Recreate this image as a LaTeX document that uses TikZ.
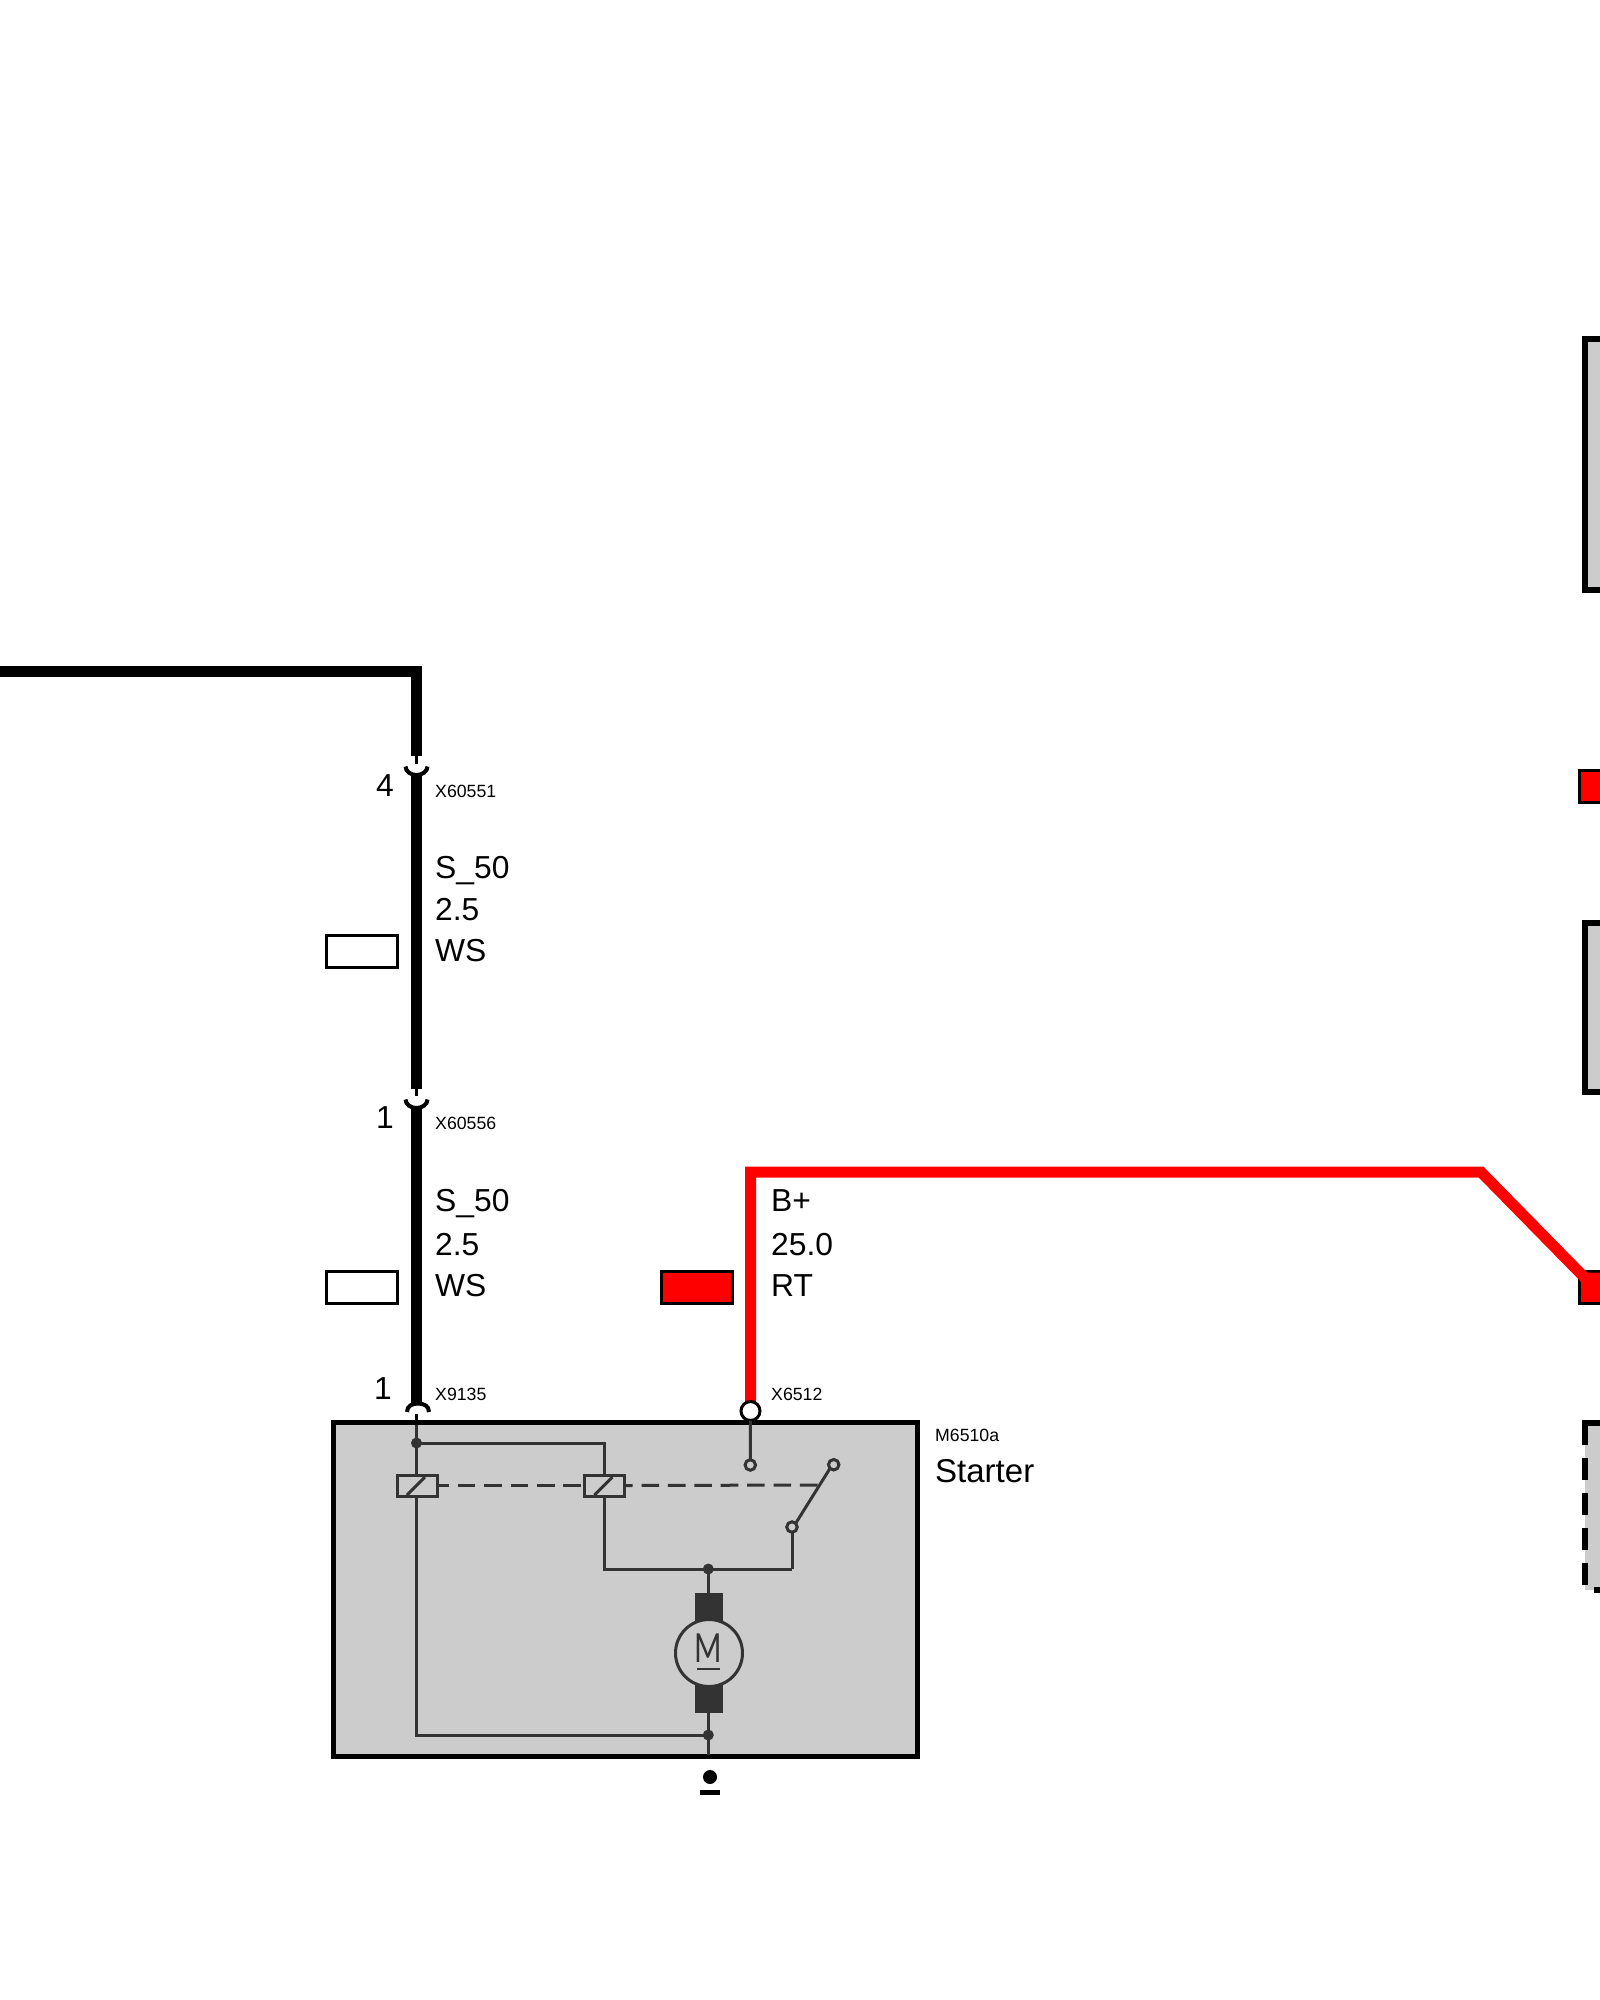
\documentclass[tikz,border=0pt]{standalone}
\usepackage{fontspec}
\setmainfont{Liberation Sans}
\newfontfamily\motorf{Lato}
\definecolor{unitgrey}{HTML}{CCCCCC}
\definecolor{inner}{HTML}{333333}
\definecolor{wirered}{HTML}{FF0000}
\tikzset{
  wireblack/.style={draw=black,line width=11pt,line cap=butt,miter limit=10},
  wirer/.style={draw=wirered,line width=11pt,line join=miter},
  stub/.style={draw=black,line width=3pt},
  socket/.style={draw=black,line width=4pt},
  unit/.style={draw=black,fill=unitgrey,line width=5pt,inner sep=0pt,outer sep=0pt},
  colwhite/.style={draw=black,fill=white,line width=3pt,inner sep=0pt,outer sep=0pt,minimum width=71pt,minimum height=32pt},
  colred/.style={colwhite,fill=wirered},
  inl/.style={draw=inner,line width=3pt},
  jdot/.style={circle,fill=inner,inner sep=0pt,outer sep=0pt,minimum size=11pt},
  coil/.style={draw=inner,fill=unitgrey,line width=3pt,inner sep=0pt,outer sep=0pt,minimum width=40pt,minimum height=21pt},
  contact/.style={circle,draw=inner,fill=unitgrey,line width=3pt,inner sep=0pt,outer sep=0pt,minimum size=10.5pt},
  brush/.style={fill=inner,inner sep=0pt,outer sep=0pt,minimum width=28pt},
  big/.style={anchor=base west,inner sep=0pt,font=\fontsize{31.8}{36}\selectfont},
  small/.style={anchor=base west,inner sep=0pt,font=\fontsize{17.7}{21}\selectfont},
}
\begin{document}
\begin{tikzpicture}[x=1pt,y=-1pt]
\useasboundingbox (0,0) rectangle (1600,2000);
\clip (0,0) rectangle (1600,2000);
\fill[white] (0,0) rectangle (1600,2000);

% units
\node[unit,minimum width=584pt,minimum height=333.5pt] (starter) at (625.5,1589.25) {};
\node[unit,line width=6pt,minimum width=200pt,minimum height=251pt] (unitA) at (1684.5,464) {};
\node[unit,line width=6pt,minimum width=200pt,minimum height=169pt] (unitB) at (1684.5,1007.5) {};
\node[unit,draw=none,minimum width=200pt,minimum height=167pt] (unitC) at (1684.5,1506.5) {};
\coordinate (cTL) at (unitC.north west);
\coordinate (cBL) at (unitC.south west);
\coordinate (cTR) at (unitC.north east);
\coordinate (cBR) at (unitC.south east);
\draw[draw=black,line width=6pt,dash pattern=on 22pt off 13pt] (cTL) -- (cBL);
\draw[draw=black,line width=6pt] ([xshift=-3pt]cTL) -- (cTR);
\draw[draw=black,line width=6pt] ([xshift=9pt]cBL) -- (cBR);

% colour tags
\node[colwhite] (tagA) at (362,951.5) {};
\node[colwhite] (tagB) at (362,1287) {};
\node[colred] (tagC) at (697,1287) {};
\node[colred] (tagD) at (1615,786.5) {};
\node[colred] (tagE) at (1615,1287.5) {};

% black wire
\coordinate (wstart) at (-10,671);
\coordinate (wcorner) at (416.5,671);
\coordinate (w4top) at (416.5,756);
\coordinate (w4mid) at (416.5,764);
\coordinate (w4bot) at (416.5,773);
\coordinate (w1top) at (416.5,1089);
\coordinate (w1mid) at (416.5,1096);
\coordinate (w1bot) at (416.5,1106);
\coordinate (w2top) at (416.5,1403);
\draw[wireblack] (wstart) -- (wcorner) -- (w4top);
\draw[wireblack] (w4bot) -- (w1top);
\draw[wireblack] (w1bot) -- (w2top);
\draw[stub] (w4top) -- (w4mid);
\draw[stub] (w1top) -- (w1mid);
\draw[stub] (416.5,1414) -- (starter.north -| w2top);
\draw[socket] (405.5,766.5) .. controls (405.5,771.5) and (411,775) .. (416.5,775) .. controls (422,775) and (427.5,771.5) .. (427.5,766.5);
\draw[socket] (405.5,1099.5) .. controls (405.5,1104.5) and (411,1108) .. (416.5,1108) .. controls (422,1108) and (427.5,1104.5) .. (427.5,1099.5);
\draw[socket] (407,1412) .. controls (407,1406) and (412,1403.5) .. (418,1403.5) .. controls (424,1403.5) and (429,1406) .. (429,1412);

% red wire
\coordinate (r0) at (750.5,1402);
\coordinate (r1) at (750.5,1172);
\coordinate (r2) at (1481,1172);
\coordinate (r3) at (1585,1278);
\coordinate (r4) at (1610,1278);
\draw[wirer] (r0) -- (r1) -- (r2) -- (r3) -- (r4);
\node[circle,draw=black,fill=white,line width=3pt,inner sep=0pt,outer sep=0pt,minimum size=19pt] (term) at (750.5,1411) {};

% internal wiring
\coordinate (j1) at (416.5,1443);
\coordinate (j1r) at (604.5,1443);
\node[coil] (coilA) at (417,1485.5) {};
\node[coil] (coilB) at (604.5,1485.5) {};
\draw[inl] (416.5,1425) -- (j1) -- (coilA.north -| j1);
\draw[inl] (j1) -- (j1r) -- (coilB.north -| j1r);
\draw[inl] (coilA.south -| j1) -- (416.5,1735) -- (708.3,1735);
\draw[inl] (coilB.south -| j1r) -- (604.5,1569) -- (792,1569);
\node[contact] (ct1) at (750.3,1465) {};
\node[contact] (ct2) at (833.7,1464.7) {};
\node[contact] (ct3) at (792,1527) {};
\draw[inl] (term.south) -- (ct1.north);
\draw[inl] (ct3.south) -- (792,1569);
\draw[inl] (ct3.north east) -- (ct2.south west);
\coordinate (dashend) at (820,1485);
\draw[draw=inner,line width=3pt,dash pattern=on 17.6pt off 8.8pt,dash phase=5.6pt] (coilA.east) -- (coilB.west);
\draw[draw=inner,line width=3pt,dash pattern=on 17.6pt off 8.8pt,dash phase=9.4pt] (coilB.east) -- (dashend);
\draw[inner,line width=3pt] (407,1495) -- (425,1477);
\draw[inner,line width=3pt] (594.5,1495) -- (612.5,1477);

% motor
\coordinate (mj1) at (708.3,1569);
\coordinate (mj2) at (708.3,1735);
\node[brush,minimum height=31pt] (bA) at (709,1608) {};
\node[brush,minimum height=30pt] (bB) at (709,1698) {};
\draw[inl] (mj1) -- (bA.north -| mj1);
\draw[inl] (bB.south -| mj1) -- (708.3,1755);
\node[circle,draw=inner,fill=unitgrey,line width=3pt,inner sep=0pt,outer sep=0pt,minimum size=67pt] (motor) at (709,1653) {};
\node[inner sep=0pt,text=inner,xscale=0.74,font=\motorf\fontsize{40}{40}\selectfont] (mletter) at (708.5,1648.5) {M};
\draw[draw=inner,line width=2.2pt] (697,1669) -- (720,1669);
\node[jdot] (jA) at (j1) {};
\node[jdot] (jB) at (mj1) {};
\node[jdot] (jC) at (mj2) {};

% ground
\node[circle,fill=black,inner sep=0pt,outer sep=0pt,minimum size=14pt] (gnd) at (710,1777) {};
\node[fill=black,inner sep=0pt,outer sep=0pt,minimum width=20pt,minimum height=5.5pt] (gndbar) at (710,1792.5) {};

% labels
\node[big] at (376,796) {4};
\node[small] at (435,797) {X60551};
\node[big] at (435,878) {S\_50};
\node[big] at (435,920) {2.5};
\node[big] at (435,961) {WS};
\node[big] at (376,1128) {1};
\node[small] at (435,1129) {X60556};
\node[big] at (435,1211) {S\_50};
\node[big] at (435,1255) {2.5};
\node[big] at (435,1296) {WS};
\node[big] at (374,1399) {1};
\node[small] at (435,1400) {X9135};
\node[small] at (771,1400) {X6512};
\node[big] at (771,1211) {B+};
\node[big] at (771,1255) {25.0};
\node[big] at (771,1296) {RT};
\node[small] at (935,1441) {M6510a};
\node[big,font=\fontsize{33}{36}\selectfont] at (935,1482) {Starter};
\end{tikzpicture}
\end{document}
